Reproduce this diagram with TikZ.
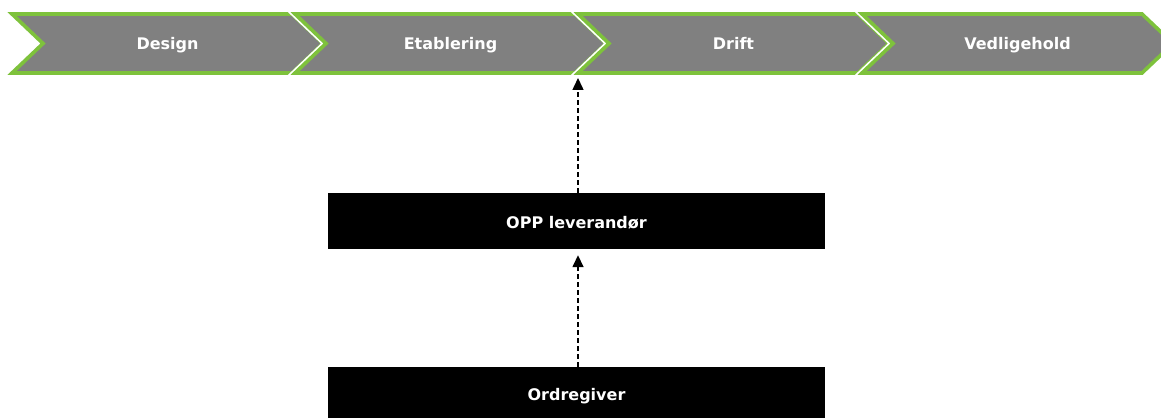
\documentclass[tikz,border=0pt]{standalone}
\usepackage{fontspec}
\setmainfont{DejaVu Sans}
\usetikzlibrary{arrows.meta}
\definecolor{phasegray}{RGB}{128,128,128}
\definecolor{phasegreen}{RGB}{126,194,60}
\tikzset{
  labeltext/.style={text=white, font=\bfseries\fontsize{16}{19}\selectfont,
    text height=12.4pt, text depth=0pt},
  phaselabel/.style={labeltext, inner sep=0pt},
  blockbox/.style={labeltext, fill=black, draw=none, minimum width=497pt, inner sep=0pt,
    text height=16pt},
  flowarrow/.style={draw=black, line width=1.5pt, dash pattern=on 5pt off 3pt,
    -{Triangle[length=12pt, width=11pt]}},
}
% one phase chevron: #1 = left x, #2 = name, #3 = label
\newcommand{\phasechevron}[3]{%
  \path[draw=white, line width=7pt, line join=miter]
    (#1,14) -- ++(280,0) -- ++(31,29.5) -- ++(-31,29.5) -- ++(-280,0) -- ++(31,-29.5) -- cycle;
  \path[fill=phasegray, draw=phasegreen, line width=3.6pt, line join=miter]
    (#1,14) -- ++(280,0) -- ++(31,29.5) -- ++(-31,29.5) -- ++(-280,0) -- ++(31,-29.5) -- cycle;
  \node[phaselabel] (#2) at ({#1+31+124.5},43) {#3};
}
\begin{document}
\begin{tikzpicture}[x=1pt, y=-1pt]
  \useasboundingbox (0,0) rectangle (1161,419);
  \begin{scope}
    \clip (0,0) rectangle (1161,419);
    \phasechevron{12}{design}{Design}
    \phasechevron{295}{etablering}{Etablering}
    \phasechevron{578}{drift}{Drift}
    \phasechevron{862}{vedlighold}{Vedligehold}
  \end{scope}
  % junction of Etablering and Drift on the lower edge
  \coordinate (junction) at (578,74);

  \node[blockbox, minimum height=56pt] (opp) at (576.5,221) {OPP leverandør};
  \node[blockbox, minimum height=51pt] (ordre) at (576.5,392.5) {Ordregiver};

  \draw[flowarrow, shorten >=4pt] (opp.north -| junction) -- (junction);
  \draw[flowarrow, shorten >=6pt] (ordre.north -| junction) -- (opp.south -| junction);
\end{tikzpicture}
\end{document}
